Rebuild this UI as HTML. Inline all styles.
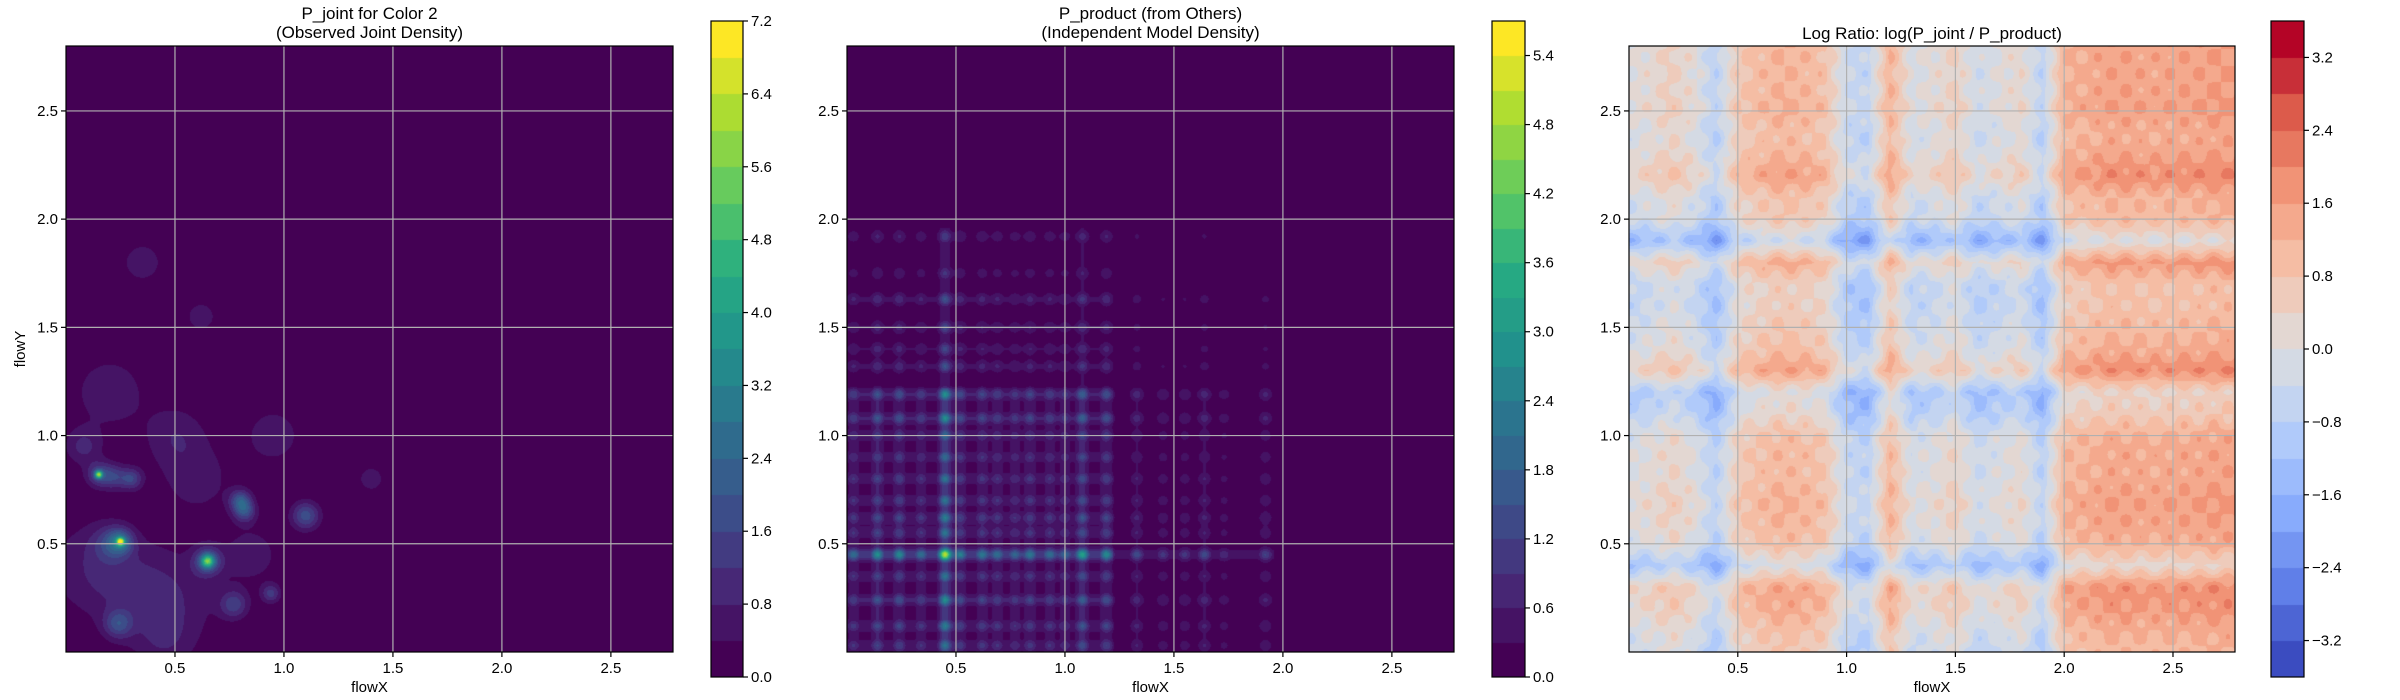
<!DOCTYPE html>
<html><head><meta charset="utf-8">
<style>
html,body{margin:0;padding:0;background:#fff;}
#root{position:relative;width:2400px;height:700px;overflow:hidden;font-family:"Liberation Sans","DejaVu Sans",sans-serif;}
canvas{position:absolute;}
svg{position:absolute;left:0;top:0;}
</style></head>
<body>
<div id="root">
<canvas id="c1" width="607" height="606" style="left:66px;top:46px"></canvas>
<canvas id="c2" width="607" height="606" style="left:847px;top:46px"></canvas>
<canvas id="c3" width="606" height="606" style="left:1629px;top:46px"></canvas>
<canvas id="cb1" width="32" height="656" style="left:711px;top:21px"></canvas>
<canvas id="cb2" width="33" height="656" style="left:1492px;top:21px"></canvas>
<canvas id="cb3" width="33" height="656" style="left:2271px;top:21px"></canvas>
<svg id="ov" width="2400" height="700"></svg>
</div>
<script>
// ---- Data ----
// Panel 1: observed joint density blobs
const blobX   = [0.15,0.15,0.22,0.30,0.25,0.25,0.20,0.65,0.65,0.80,0.82,1.10,0.77,0.94,0.24,0.08,0.35,0.62,0.50,0.95,1.40,0.20,0.50,0.10,0.60,0.30,0.45,0.85];
const blobY   = [0.82,0.82,0.81,0.80,0.51,0.51,0.50,0.42,0.42,0.70,0.65,0.63,0.22,0.27,0.13,0.95,1.80,1.55,1.00,1.00,0.80,1.20,0.25,0.40,0.80,0.30,0.05,0.45];
const blobAmp = [4.5,1.5,1.3,1.5,5.0,2.0,1.0,3.5,2.0,1.8,1.6,1.8,1.4,1.3,1.5,0.9,0.8,0.7,0.7,0.7,0.6,0.7,0.6,0.6,0.6,0.6,0.6,0.6];
const blobW   = [0.012,0.04,0.04,0.035,0.012,0.04,0.06,0.02,0.045,0.035,0.035,0.045,0.045,0.03,0.045,0.06,0.06,0.05,0.1,0.09,0.05,0.12,0.15,0.15,0.12,0.15,0.1,0.1];
// Panel 2: marginal peaks
const pxPos = [0.03,0.14,0.24,0.34,0.45,0.52,0.62,0.69,0.77,0.84,0.93,1.00,1.08,1.19,1.33,1.45,1.55,1.64,1.73,1.92];
const pxAmp = [0.8,1.15,1.1,0.8,2.3,1.0,0.9,0.8,0.7,0.9,0.8,0.7,1.4,1.1,0.6,0.4,0.4,0.6,0.3,0.5];
const pyPos = [0.03,0.12,0.24,0.35,0.45,0.55,0.62,0.70,0.80,0.90,1.00,1.08,1.19,1.32,1.40,1.50,1.63,1.75,1.92];
const pyAmp = [0.9,1.0,1.2,0.9,2.4,0.9,1.0,0.9,0.9,0.8,0.8,1.2,1.2,0.7,0.6,0.6,0.7,0.4,0.5];
// Panel 3: log-ratio row/column effects sampled every 0.1
const lrCol = [-0.4,-0.2,0.1,-0.3,-1.1,0.3,0.6,0.8,0.7,0.5,-0.8,-1.0,0.8,-0.5,-0.3,0.1,-0.7,-0.4,-0.1,-1.1,0.8,0.9,1.1,1.1,1.0,1.1,1.1,1.2];
const lrRow = [0.0,0.2,0.6,0.7,-0.8,0.2,0.4,0.5,0.3,0.3,0.2,-0.4,-0.7,0.8,0.2,0.0,-0.2,-0.2,0.6,-1.1,0.0,0.1,0.8,0.4,0.2,0.5,0.4,0.4];
const xTicks = [0.5,1.0,1.5,2.0,2.5];
const yTicks = [0.5,1.0,1.5,2.0,2.5];
const cb1Ticks = [0.0,0.8,1.6,2.4,3.2,4.0,4.8,5.6,6.4,7.2];
const cb2Ticks = [0.0,0.6,1.2,1.8,2.4,3.0,3.6,4.2,4.8,5.4];
const cb3Ticks = [-3.2,-2.4,-1.6,-0.8,0.0,0.8,1.6,2.4,3.2];

const XMAX=2.785, YMAX=2.80;
const viridis=[[0,[68,1,84]],[0.13,[71,44,122]],[0.25,[59,82,139]],[0.38,[44,114,142]],[0.5,[33,145,140]],[0.63,[39,173,129]],[0.75,[94,201,98]],[0.88,[170,220,50]],[1,[253,231,37]]];
const coolwarm=[[0,[59,76,192]],[0.125,[98,130,234]],[0.25,[141,176,254]],[0.375,[184,208,249]],[0.5,[221,221,221]],[0.625,[245,196,173]],[0.75,[244,154,123]],[0.875,[222,96,77]],[1,[180,4,38]]];
function cmap(m,t){t=Math.max(0,Math.min(1,t));for(let i=1;i<m.length;i++){if(t<=m[i][0]){const a=m[i-1],b=m[i];const f=(t-a[0])/(b[0]-a[0]);return [0,1,2].map(k=>Math.round(a[1][k]+(b[1][k]-a[1][k])*f));}}return m[m.length-1][1];}
function bandColor(m,v,lo,hi,step){const n=Math.round((hi-lo)/step);let i=Math.floor((v-lo)/step);i=Math.max(0,Math.min(n-1,i));return cmap(m,i/(n-1));}
function paint(id,fn,m,lo,hi,step){const c=document.getElementById(id),ctx=c.getContext('2d');const W=c.width,H=c.height;const img=ctx.createImageData(W,H);
 for(let py=0;py<H;py++){const y=YMAX*(1-(py+0.5)/H);for(let px=0;px<W;px++){const x=XMAX*(px+0.5)/W;const col=bandColor(m,fn(x,y),lo,hi,step);const o=(py*W+px)*4;img.data[o]=col[0];img.data[o+1]=col[1];img.data[o+2]=col[2];img.data[o+3]=255;}}
 ctx.putImageData(img,0,0);}
function f1(x,y){let s=0;for(let i=0;i<blobX.length;i++){const dx=x-blobX[i],dy=y-blobY[i],w=blobW[i];s+=blobAmp[i]*Math.exp(-(dx*dx+dy*dy)/(2*w*w));}return s;}
function marg(v,pos,amp,lim1,lim2){let s=0;for(let i=0;i<pos.length;i++){const d=v-pos[i];s+=amp[i]*Math.exp(-d*d/(2*0.02*0.02));}
 let base=v<lim1?0.5:(v<lim2?0.22:0.0);return Math.max(base,s*0.85+base*0.5)*(v<2.0?1:Math.exp(-(v-2)*20));}
function f2(x,y){return marg(x,pxPos,pxAmp,1.22,1.96)*marg(y,pyPos,pyAmp,1.22,1.96);}
function samp(arr,v){const t=v/0.1;const i=Math.max(0,Math.min(arr.length-2,Math.floor(t)));const f=Math.min(1,Math.max(0,t-i));return arr[i]*(1-f)+arr[i+1]*f;}
function f3(x,y){return samp(lrCol,x)+samp(lrRow,y)+0.3*Math.sin(x*47+1)*Math.sin(y*41+2);}
paint('c1',f1,viridis,0,7.2,0.4);
paint('c2',f2,viridis,0,5.7,0.3);
paint('c3',f3,coolwarm,-3.6,3.6,0.4);
function paintCb(id,m,lo,hi,step){const c=document.getElementById(id),ctx=c.getContext('2d');const n=Math.round((hi-lo)/step);const H=c.height;
 for(let i=0;i<n;i++){const col=cmap(m,i/(n-1));ctx.fillStyle=`rgb(${col})`;const y0=H-(i+1)*H/n,y1=H-i*H/n;ctx.fillRect(0,Math.floor(y0),c.width,Math.ceil(y1)-Math.floor(y0));}}
paintCb('cb1',viridis,0,7.2,0.4);paintCb('cb2',viridis,0,5.7,0.3);paintCb('cb3',coolwarm,-3.6,3.6,0.4);

// ---- Axes overlay ----
const NS='http://www.w3.org/2000/svg';const svg=document.getElementById('ov');
function el(tag,attrs,text){const e=document.createElementNS(NS,tag);for(const k in attrs)e.setAttribute(k,attrs[k]);if(text!==undefined)e.textContent=text;svg.appendChild(e);return e;}
const panels=[{x:66,y:46,w:607,h:606,t:['P_joint for Color 2','(Observed Joint Density)'],ylab:true,cb:{x:711,y:21,w:32,h:656,lo:0,hi:7.2,ticks:cb1Ticks}},
 {x:847,y:46,w:607,h:606,t:['P_product (from Others)','(Independent Model Density)'],ylab:false,cb:{x:1492,y:21,w:33,h:656,lo:0,hi:5.7,ticks:cb2Ticks}},
 {x:1629,y:46,w:606,h:606,t:['Log Ratio: log(P_joint / P_product)'],ylab:false,cb:{x:2271,y:21,w:33,h:656,lo:-3.6,hi:3.6,ticks:cb3Ticks}}];
panels.forEach((p,pi)=>{
 const sx=v=>p.x+v/XMAX*p.w, sy=v=>p.y+p.h-v/YMAX*p.h;
 xTicks.forEach(v=>{const g=el('line',{x1:sx(v),x2:sx(v),y1:p.y,y2:p.y+p.h,stroke:'#b0b0b0','stroke-width':1.2});
  
  
  el('line',{x1:sx(v),x2:sx(v),y1:p.y+p.h,y2:p.y+p.h+5,stroke:'#000','stroke-width':1.2});
  const t=el('text',{x:sx(v),y:p.y+p.h+21,'font-size':15,'text-anchor':'middle',fill:'#000'},v.toFixed(1));
  
  });
 yTicks.forEach(v=>{const g=el('line',{x1:p.x,x2:p.x+p.w,y1:sy(v),y2:sy(v),stroke:'#b0b0b0','stroke-width':1.2});
  
  
  el('line',{x1:p.x-5,x2:p.x,y1:sy(v),y2:sy(v),stroke:'#000','stroke-width':1.2});
  const t=el('text',{x:p.x-8,y:sy(v)+5,'font-size':15,'text-anchor':'end',fill:'#000'},v.toFixed(1));
  
  });
 const fr=el('rect',{x:p.x,y:p.y,width:p.w,height:p.h,fill:'none',stroke:'#000','stroke-width':1.2});
 
 
 if(p.t.length===2){const a=el('text',{x:p.x+p.w/2,y:19,'font-size':17,'text-anchor':'middle'},p.t[0]);
  const b=el('text',{x:p.x+p.w/2,y:38,'font-size':17,'text-anchor':'middle'},p.t[1]);}
 else{const a=el('text',{x:p.x+p.w/2,y:39,'font-size':17,'text-anchor':'middle'},p.t[0]);}
 const xl=el('text',{x:p.x+p.w/2,y:692,'font-size':15,'text-anchor':'middle'},'flowX');
 
 
 if(p.ylab){const yl=el('text',{x:0,y:0,'font-size':15,'text-anchor':'middle',transform:`translate(25,${p.y+p.h/2}) rotate(-90)`},'flowY');
  
  }
 const c=p.cb;const cy=v=>c.y+c.h-(v-c.lo)/(c.hi-c.lo)*c.h;
 const cr=el('rect',{x:c.x,y:c.y,width:c.w,height:c.h,fill:'none',stroke:'#000','stroke-width':1.2});
 
 
 c.ticks.forEach(v=>{el('line',{x1:c.x+c.w,x2:c.x+c.w+5,y1:cy(v),y2:cy(v),stroke:'#000','stroke-width':1.2});
  const lab=(v<0?'\u2212'+Math.abs(v).toFixed(1):v.toFixed(1));
  const t=el('text',{x:c.x+c.w+8,y:cy(v)+5,'font-size':15,fill:'#000'},lab);
  
  });
});
</script>
</body></html>
